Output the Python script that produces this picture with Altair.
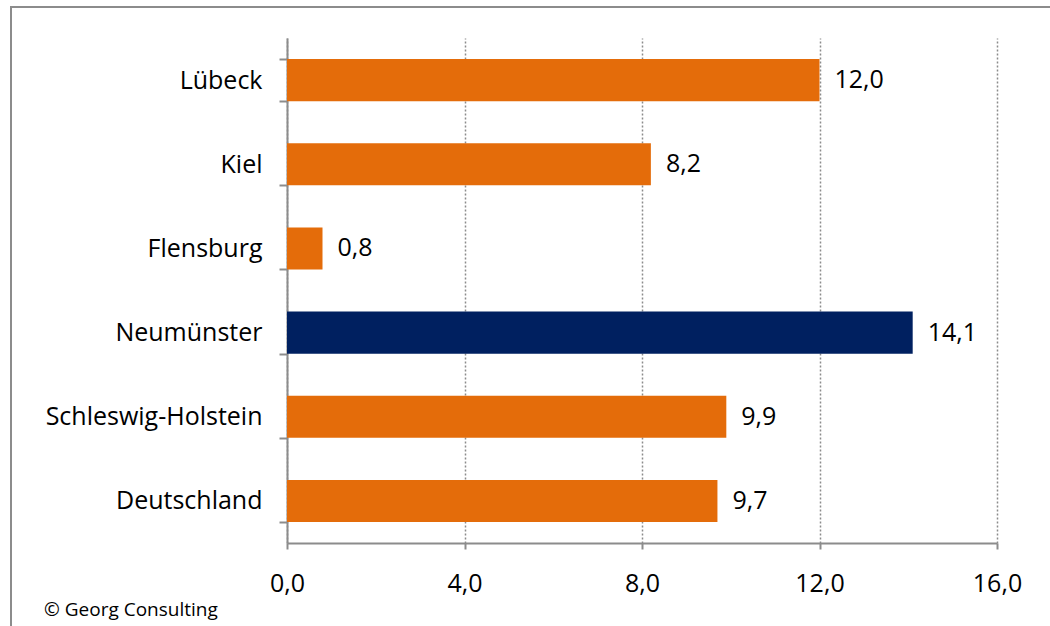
import altair as alt
import pandas as pd

regions = ["Lübeck", "Kiel", "Flensburg", "Neumünster", "Schleswig-Holstein", "Deutschland"]
values = [12.0, 8.2, 0.8, 14.1, 9.9, 9.7]
x_ticks = [0, 4, 8, 12, 16]
highlight = "Neumünster"

df = pd.DataFrame({
    "region": regions,
    "value": values,
    "label": [f"{v:.1f}".replace(".", ",") for v in values],
})

FONT = "Open Sans"
ORANGE = "#E46C0A"
NAVY = "#002060"
GRAY = "#8C8C8C"

y_enc = alt.Y(
    "region:N",
    sort=regions,
    title=None,
    scale=alt.Scale(paddingInner=0.5, paddingOuter=0.25),
    axis=alt.Axis(
        labelFont=FONT, labelFontSize=25, labelColor="#000000", labelLimit=0,
        labelPadding=17, tickSize=8, tickColor=GRAY, tickWidth=2,
        domainColor=GRAY, domainWidth=2, tickBand="extent",
    ),
)

x_enc = alt.X(
    "value:Q",
    title=None,
    scale=alt.Scale(domain=[0, 16], nice=False),
    axis=alt.Axis(
        values=x_ticks,
        labelExpr="replace(format(datum.value, '.1f'), '.', ',')",
        labelFont=FONT, labelFontSize=25, labelColor="#000000",
        labelFlush=False, labelOverlap=False,
        labelPadding=22, tickSize=6, tickColor=GRAY, tickWidth=2,
        domainColor=GRAY, domainWidth=2,
        grid=True, gridColor=GRAY, gridDash=[2, 2], gridWidth=1.5,
    ),
)

bars = alt.Chart(df).mark_bar().encode(
    y=y_enc,
    x=x_enc,
    color=alt.condition(
        alt.datum.region == highlight, alt.value(NAVY), alt.value(ORANGE)
    ),
)

labels = alt.Chart(df).mark_text(
    align="left", baseline="middle", dx=15, font=FONT, fontSize=25, color="#000000"
).encode(
    y=alt.Y("region:N", sort=regions),
    x="value:Q",
    text="label:N",
)

# outer frame (left and top edges)
frame_left = alt.Chart().mark_rule(color=GRAY, strokeWidth=2).encode(
    x=alt.value(-276), y=alt.value(-31), y2=alt.value(620)
)
frame_top = alt.Chart().mark_rule(color=GRAY, strokeWidth=2).encode(
    x=alt.value(-277), x2=alt.value(800), y=alt.value(-31)
)

credit = alt.Chart().mark_text(
    align="left", baseline="middle", font=FONT, fontSize=19, color="#000000"
).encode(
    x=alt.value(-243), y=alt.value(572), text=alt.value("© Georg Consulting")
)

chart = alt.layer(bars, labels, frame_left, frame_top, credit).properties(
    width=710,
    height=505,
    autosize=alt.AutoSizeParams(type="none"),
    padding={"left": 287, "top": 38, "right": 53, "bottom": 83},
    background="#FFFFFF",
).configure_view(stroke=None)

chart.save("out.html", embed_options={"renderer": "svg", "actions": False})
